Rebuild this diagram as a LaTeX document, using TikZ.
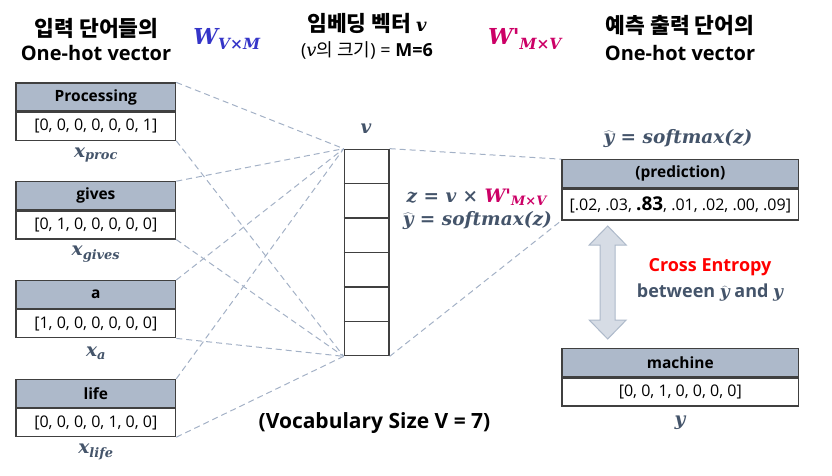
\documentclass[tikz,border=0pt]{standalone}
\usepackage{fontspec}
\setmainfont{Open Sans}
\newfontfamily\kr{Noto Sans CJK KR}
\newfontfamily\mif{DejaVu Serif}
\newcommand\mi[1]{{\mif\bfseries\itshape #1}}
\newcommand\yhat{$\widehat{\hbox{\mi{y}}}$}
\newcommand\prm{\char"27\relax}
\usetikzlibrary{calc}
\definecolor{hdr}{HTML}{ADB9CA}
\definecolor{slate}{HTML}{44546A}
\definecolor{dashc}{HTML}{A3B1C6}
\definecolor{wblue}{HTML}{3535C8}
\definecolor{wmag}{HTML}{CC0066}
\definecolor{border}{HTML}{404040}
\definecolor{arrfill}{HTML}{D6DCE5}
\definecolor{arrline}{HTML}{ADB9CA}
\tikzset{
  hbox/.style={draw=border, line width=1.2pt, fill=hdr, minimum width=159.7pt, minimum height=28pt, inner sep=0pt, font=\fontsize{15.5}{18}\selectfont\bfseries, text=black},
  vbox/.style={draw=border, line width=1.2pt, fill=white, minimum width=159.7pt, minimum height=28pt, inner sep=0pt, font=\fontsize{16}{18}\selectfont},
  rhbox/.style={hbox, minimum width=236.7pt},
  rvbox/.style={vbox, minimum width=236.7pt},
  lbl/.style={text=slate, font=\fontsize{18.5}{20}\selectfont, inner sep=0pt},
  ttl/.style={font=\fontsize{20}{22}\selectfont\bfseries, inner sep=0pt},
  kttl/.style={font=\kr\fontsize{21.5}{22}\selectfont\bfseries, inner sep=0pt},
  link/.style={draw=dashc, line width=1pt, dash pattern=on 6pt off 4pt},
}
\begin{document}
\begin{tikzpicture}[x=1pt,y=-1pt]
\useasboundingbox (0,0) rectangle (832,476);

% titles
\node[kttl] (t1) at (96.7,28) {입력 단어들의};
\node[ttl] (t2) at (96,53) {One-hot vector};
\node[inner sep=0pt, text=wblue, font=\fontsize{22}{24}\selectfont] (wvm) at (227,39) {\mi{W\textsubscript{V×M}}};
\node[kttl] (t3) at (367,23) {임베딩 벡터 \normalfont\fontsize{18}{20}\selectfont\mi{v}};
\node[inner sep=0pt, font=\fontsize{18}{22}\selectfont] (t4) at (367,50) {({\mif\itshape v}{\kr 의 크기}) = \textbf{M=6}};
\node[inner sep=0pt, text=wmag, font=\fontsize{22}{24}\selectfont] (wmv) at (525,39) {\mi{W\prm\textsubscript{M×V}}};
\node[kttl] (t5) at (680,25) {예측 출력 단어의};
\node[ttl] (t6) at (680,53) {One-hot vector};

% left boxes
\node[hbox] (p1h) at (95.85,97) {Processing};
\node[vbox, anchor=north] (p1v) at (p1h.south) {[0, 0, 0, 0, 0, 0, 1]};
\node[lbl] (x1) at (96,155) {\mi{x\textsubscript{proc}}};

\node[hbox] (p2h) at (95.85,195.8) {gives};
\node[vbox, anchor=north] (p2v) at (p2h.south) {[0, 1, 0, 0, 0, 0, 0]};
\node[lbl] (x2) at (96,254) {\mi{x\textsubscript{gives}}};

\node[hbox] (p3h) at (95.85,294.6) {a};
\node[vbox, anchor=north] (p3v) at (p3h.south) {[1, 0, 0, 0, 0, 0, 0]};
\node[lbl] (x3) at (96,353) {\mi{x\textsubscript{a}}};

\node[hbox] (p4h) at (95.85,393.4) {life};
\node[vbox, anchor=north] (p4v) at (p4h.south) {[0, 0, 0, 0, 1, 0, 0]};
\node[lbl] (x4) at (96,452) {\mi{x\textsubscript{life}}};

% embedding vector
\node[draw=border, line width=1.3pt, fill=white, minimum width=44.7pt, minimum height=206.4pt, inner sep=0pt] (vec) at (366.7,252.5) {};
\foreach \k in {1,...,5}
  \draw[border, line width=1.3pt] ($(vec.north west)!\k/6!(vec.south west)$) -- ($(vec.north east)!\k/6!(vec.south east)$);
\node[lbl] (vl) at (366,129) {\mi{v}};

\node[lbl, anchor=east] (f1) at (547,197) {\mi{z = v × \textcolor{wmag}{W\prm\textsubscript{M×V}}}};
\node[lbl, anchor=east] (f2) at (552,221) {\mi{\yhat{} = softmax(z)}};

% right boxes
\node[lbl] (yh) at (678,139) {\mi{\yhat{} = softmax(z)}};
\node[rhbox] (ph) at (680.3,173.8) {(prediction)};
\node[rvbox, anchor=north, minimum height=31pt] (pv) at (ph.south) {[.02, .03, {\bfseries\fontsize{19}{20}\selectfont .83}, .01, .02, .00, .09]};

\node[rhbox] (mh) at (680.3,362.8) {machine};
\node[rvbox, anchor=north] (mv) at (mh.south) {[0, 0, 1, 0, 0, 0, 0]};
\node[lbl] (yl) at (680,423) {\mi{y}};

% double arrow
\draw[draw=arrline, fill=arrfill, line width=1pt]
  (607.7,226) -- (626.2,245) -- (615.2,245) -- (615.2,320) -- (626.2,320) -- (607.7,339)
  -- (589.2,320) -- (600.2,320) -- (600.2,245) -- (589.2,245) -- cycle;
\node[inner sep=0pt, text=red, font=\fontsize{18}{20}\selectfont\bfseries] (ce1) at (710,267) {Cross Entropy};
\node[inner sep=0pt, text=slate, font=\fontsize{18}{20}\selectfont\bfseries] (ce2) at (710,293) {between {\fontsize{17}{20}\selectfont\yhat} and {\fontsize{17}{20}\selectfont\mi{y}}};

\node[inner sep=0pt, font=\fontsize{21}{22}\selectfont\bfseries] (voc) at (374.5,423) {(Vocabulary Size V = 7)};

% connectors
\foreach \b in {p1h,p2h,p3h,p4h}
  \draw[link] (\b.north east) -- (vec.north west);
\foreach \b in {p1v,p2v,p3v,p4v}
  \draw[link] (\b.south east) -- (vec.south west);
\draw[link] (vec.north east) -- (ph.north west);
\draw[link] (vec.south east) -- (pv.south west);
\end{tikzpicture}
\end{document}
